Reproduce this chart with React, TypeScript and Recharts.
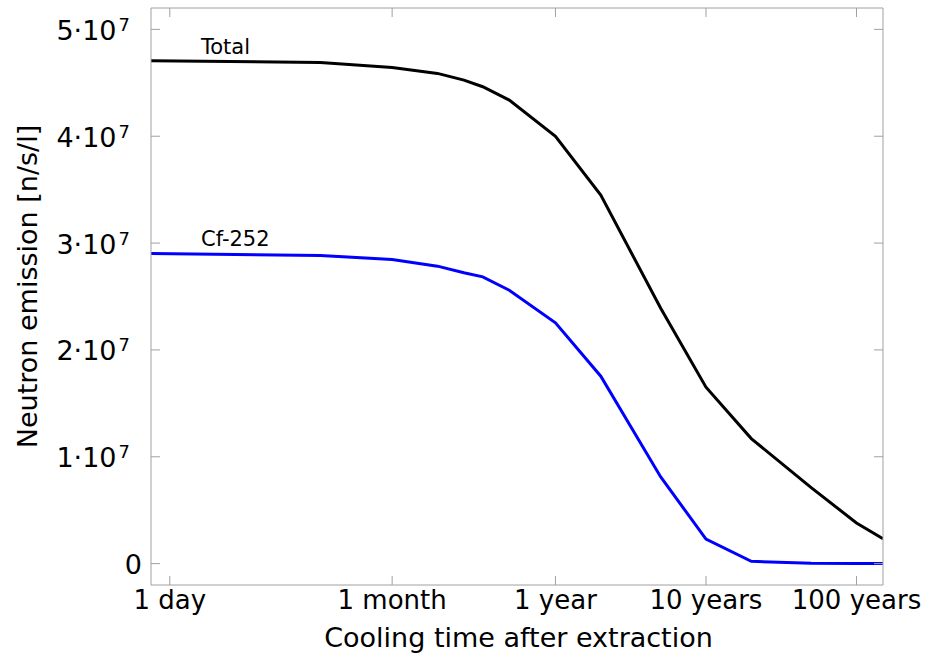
import React from "react";
import { LineChart, Line, XAxis, YAxis } from "recharts";

// cooling time in days, emission in n/s/l
const coolingDays = [0.75, 10, 30, 60, 90, 120, 180, 365, 730, 1826, 3650, 7300, 18250, 36500, 54750];
const totalEmission = [
  4.706e7, 4.691e7, 4.644e7, 4.588e7, 4.525e7, 4.463e7, 4.338e7, 4.0e7, 3.449e7, 2.39e7, 1.651e7,
  1.17e7, 0.712e7, 0.38e7, 0.234e7,
];
const cf252Emission = [
  2.903e7, 2.884e7, 2.846e7, 2.784e7, 2.722e7, 2.684e7, 2.559e7, 2.253e7, 1.754e7, 0.811e7, 0.23e7,
  0.022e7, 0.003e7, 0.002e7, 0.001e7,
];

const timeTicks = [1, 30, 365, 3650, 36500];
const timeTickLabels = ["1 day", "1 month", "1 year", "10 years", "100 years"];
const emissionTicks = [0, 1e7, 2e7, 3e7, 4e7, 5e7];

const rows = coolingDays.map((days, i) => ({
  days,
  total: totalEmission[i],
  cf252: cf252Emission[i],
}));

const FONT = "'DejaVu Sans', sans-serif";
const FRAME = "#a0a0a0";
const TICK_LEN = 9;

function BottomTick({ x, y, payload }: any) {
  const i = timeTicks.indexOf(payload.value);
  return (
    <g>
      <line x1={x} y1={y} x2={x} y2={y - TICK_LEN} stroke={FRAME} />
      <text x={x} y={y + 23.5} textAnchor="middle" fontSize={26} fontFamily={FONT} fill="#000">
        {timeTickLabels[i]}
      </text>
    </g>
  );
}

function TopTick({ x, y }: any) {
  return <line x1={x} y1={y} x2={x} y2={y + TICK_LEN} stroke={FRAME} />;
}

function LeftTick({ x, y, payload }: any) {
  const v = payload.value;
  return (
    <g>
      <line x1={x} y1={y} x2={x + TICK_LEN} y2={y} stroke={FRAME} />
      {v === 0 ? (
        <text x={x - 9} y={y + 10} textAnchor="end" fontSize={27} fontFamily={FONT} fill="#000">
          0
        </text>
      ) : (
        <text x={x - 21} y={y + 10.5} textAnchor="end" fontSize={27} fontFamily={FONT} fill="#000">
          {`${Math.round(v / 1e7)}·10`}
          <tspan dx={2} dy={-9} fontSize={18}>
            7
          </tspan>
        </text>
      )}
    </g>
  );
}

function RightTick({ x, y }: any) {
  return <line x1={x} y1={y} x2={x - TICK_LEN} y2={y} stroke={FRAME} />;
}

const seriesLabel = (name: string) => (props: any) =>
  props.index === 0 ? (
    <text x={props.x + 50} y={props.y - 7} fontSize={21} fontFamily={FONT} fill="#000">
      {name}
    </text>
  ) : null;

export default function App() {
  return (
    <div style={{ position: "absolute", left: 0, top: 0, background: "#fff", fontFamily: FONT }}>
      <LineChart width={930} height={655} data={rows} margin={{ top: 7, right: 46, bottom: 0, left: 0 }}>
        <XAxis
          xAxisId="time"
          dataKey="days"
          type="number"
          scale="log"
          domain={[0.75, 54750]}
          allowDataOverflow
          ticks={timeTicks}
          height={70}
          tickSize={0}
          tickMargin={0}
          tickLine={false}
          axisLine={{ stroke: FRAME }}
          tick={<BottomTick />}
          interval={0}
          label={{
            content: ({ viewBox }: any) => (
              <text
                x={viewBox.x + viewBox.width / 2 + 1.5}
                y={viewBox.y + 61.7}
                textAnchor="middle"
                fontSize={27}
                fontFamily={FONT}
                fill="#000"
              >
                Cooling time after extraction
              </text>
            ),
          }}
        />
        <XAxis
          xAxisId="timeMirror"
          orientation="top"
          dataKey="days"
          type="number"
          scale="log"
          domain={[0.75, 54750]}
          allowDataOverflow
          ticks={timeTicks}
          height={1}
          tickSize={0}
          tickMargin={0}
          tickLine={false}
          axisLine={{ stroke: FRAME }}
          tick={<TopTick />}
          interval={0}
        />
        <YAxis
          yAxisId="em"
          type="number"
          domain={[-2e6, 5.2e7]}
          allowDataOverflow
          ticks={emissionTicks}
          width={151}
          tickSize={0}
          tickMargin={0}
          tickLine={false}
          axisLine={{ stroke: FRAME }}
          tick={<LeftTick />}
          interval={0}
          label={{
            content: ({ viewBox }: any) => {
              const cy = viewBox.y + viewBox.height / 2 - 10;
              return (
                <text
                  x={37}
                  y={cy}
                  transform={`rotate(-90, 37, ${cy})`}
                  textAnchor="middle"
                  fontSize={27}
                  fontFamily={FONT}
                  fill="#000"
                >
                  Neutron emission [n/s/l]
                </text>
              );
            },
          }}
        />
        <YAxis
          yAxisId="emMirror"
          orientation="right"
          type="number"
          domain={[-2e6, 5.2e7]}
          allowDataOverflow
          ticks={emissionTicks}
          width={1}
          tickSize={0}
          tickMargin={0}
          tickLine={false}
          axisLine={{ stroke: FRAME }}
          tick={<RightTick />}
          interval={0}
        />
        <Line
          xAxisId="time"
          yAxisId="em"
          type="linear"
          dataKey="total"
          stroke="#000000"
          strokeWidth={3}
          dot={false}
          isAnimationActive={false}
          label={seriesLabel("Total")}
        />
        <Line
          xAxisId="time"
          yAxisId="em"
          type="linear"
          dataKey="cf252"
          stroke="#0000ff"
          strokeWidth={3}
          dot={false}
          isAnimationActive={false}
          label={seriesLabel("Cf-252")}
        />
      </LineChart>
    </div>
  );
}
